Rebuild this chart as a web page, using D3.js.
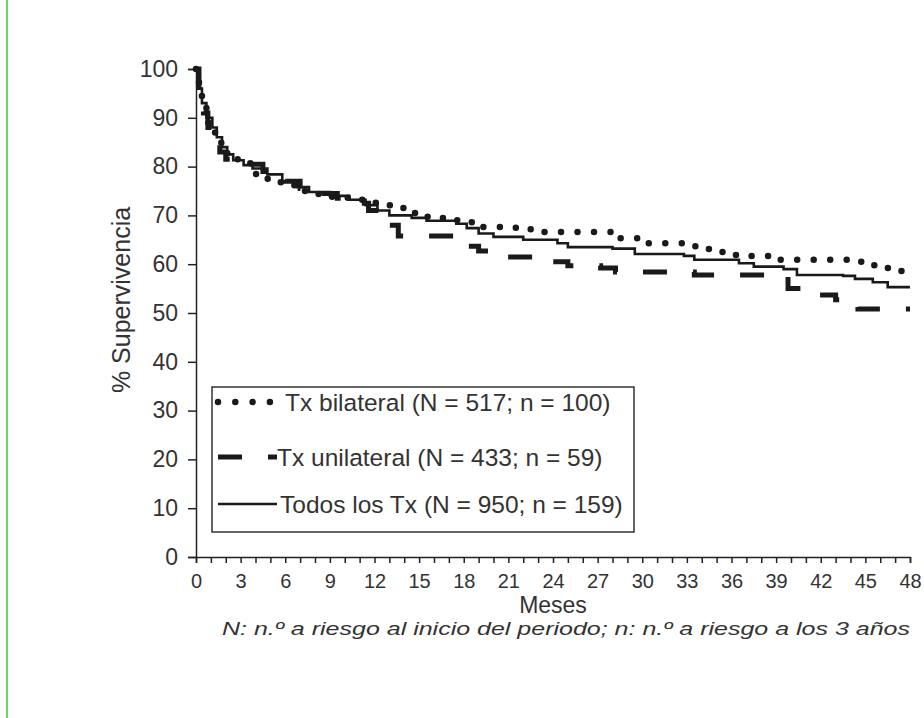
<!DOCTYPE html>
<html>
<head>
<meta charset="utf-8">
<script src="https://d3js.org/d3.v7.min.js"></script>
<style>
  body { margin: 0; background: #fff; }
  text { font-family: "Liberation Sans", Arial, sans-serif; fill: #333; }
</style>
</head>
<body>
<svg id="chart" width="924" height="718"></svg>
<script>
// Kaplan-Meier curves, [month, % survival] at each step
var bilateral = [[0,100],[0.2,96],[0.4,93],[0.7,89],[1,87],[1.3,85],[1.7,83],[2.1,81.5],[2.8,80.7],[3.7,80.3],[4,78.5],[4.6,77.5],[5.5,76.8],[6.2,76.2],[7,75],[7.8,74.4],[9,73.8],[10.2,73.2],[11.3,72.6],[12.3,72.1],[13.3,71.5],[14.2,70.5],[15.4,69.7],[16.6,69],[17.8,68.6],[18.8,67.6],[21.5,67.2],[22.5,66.6],[28.5,65.3],[29.8,64.3],[33,63.7],[34.2,63.1],[35.3,62.5],[36.3,61.7],[38.5,60.9],[44,60.5],[45.2,59.8],[46.4,59.2],[47.3,58.6],[48,58.6]];
var unilateral = [[0,100],[0.2,95],[0.5,91],[0.8,88],[1.2,86],[1.6,83],[2,81.5],[2.6,80.5],[4.5,79],[5.2,78],[6,77],[7,75.5],[8,74.5],[9.5,73.5],[11,72.5],[11.6,71],[12.1,69.5],[12.6,68],[13.6,65.8],[17.6,64.8],[18.3,63.7],[19,62.7],[20.5,61.5],[23.8,60.5],[25,59.7],[27.2,59.2],[28.2,58.4],[33.5,57.8],[39.8,55],[40.8,54.2],[41.5,53.7],[43,52.7],[43.8,51.8],[44.5,50.8],[48,50.8]];
var todos = [[0,100],[0.2,96],[0.4,93],[0.7,90],[1.1,88],[1.4,86],[1.75,84],[2.1,82.5],[2.5,81.3],[3.2,80.3],[3.8,79.6],[4.8,78.4],[5.8,77],[6.8,75.8],[7.6,74.8],[9,74],[10.3,73.2],[11.4,72.1],[12.2,71],[13,70],[14.5,69.5],[15.5,68.9],[17.5,68.3],[18.2,67.4],[19,66.3],[20,65.6],[22,65],[24.3,64.3],[25,63.5],[28,63.2],[29.5,62.1],[32.8,61.7],[33.5,60.9],[36.5,60.2],[37.5,59.5],[39.5,59],[40.4,57.8],[43.5,57.6],[44.3,57],[45.5,56.3],[46.5,55.3],[48,55.3]];

var xTicks = d3.range(0, 49, 3);
var yTicks = d3.range(0, 101, 10);
var legendLabels = ["Tx bilateral (N = 517; n = 100)", "Tx unilateral (N = 433; n = 59)", "Todos los Tx (N = 950; n = 159)"];

var svg = d3.select("#chart");

svg.append("line")
    .attr("x1", 7).attr("x2", 7).attr("y1", 0).attr("y2", 718)
    .attr("stroke", "#3c3").attr("stroke-width", 1.5);

var x = d3.scaleLinear().domain([0, 48]).range([196, 910]);
var y = d3.scaleLinear().domain([0, 100]).range([557, 69]);

// axes
var yAxis = svg.append("g")
    .attr("transform", "translate(196,0)")
    .call(d3.axisLeft(y).tickValues(yTicks).tickSize(8).tickPadding(10));
svg.append("g")
    .attr("transform", "translate(0,557)")
    .call(d3.axisBottom(x).ticks(48).tickSize(6).tickFormat(""));
var xLabels = svg.append("g")
    .attr("transform", "translate(0,557)")
    .call(d3.axisBottom(x).tickValues(xTicks).tickSize(0).tickPadding(17));
xLabels.select(".domain").remove();

svg.selectAll(".domain").attr("stroke", "#222").attr("stroke-width", 1.5);
svg.selectAll(".tick line").attr("stroke", "#222").attr("stroke-width", 1.5);
svg.selectAll(".tick text").attr("fill", "#333")
    .style("font-family", "Liberation Sans, Arial, sans-serif");
yAxis.selectAll(".tick text").attr("font-size", 23);
xLabels.selectAll(".tick text").attr("font-size", 20);

// axis titles
svg.append("text")
    .attr("transform", "translate(130,300) rotate(-90)")
    .attr("text-anchor", "middle")
    .attr("font-size", 25)
    .text("% Supervivencia");
svg.append("text")
    .attr("x", 553).attr("y", 613)
    .attr("text-anchor", "middle")
    .attr("font-size", 23)
    .text("Meses");
svg.append("text")
    .attr("x", 222).attr("y", 635)
    .attr("font-size", 19)
    .attr("font-style", "italic")
    .attr("textLength", 688)
    .attr("lengthAdjust", "spacingAndGlyphs")
    .text("N: n.º a riesgo al inicio del periodo; n: n.º a riesgo a los 3 años");

// curves
var line = d3.line()
    .x(function(d) { return x(d[0]); })
    .y(function(d) { return y(d[1]); })
    .curve(d3.curveStepAfter);

var styles = [
    {data: bilateral, width: 6.5, dash: "0 16.5", cap: "round"},
    {data: unilateral, width: 5, dash: "24 26", cap: "butt"},
    {data: todos, width: 2.6, dash: null, cap: "butt"}
];

styles.forEach(function(s) {
    svg.append("path")
        .datum(s.data)
        .attr("d", line)
        .attr("fill", "none")
        .attr("stroke", "#1a1a1a")
        .attr("stroke-width", s.width)
        .attr("stroke-dasharray", s.dash)
        .attr("stroke-linecap", s.cap);
});

// legend
svg.append("rect")
    .attr("x", 212).attr("y", 387).attr("width", 422).attr("height", 145)
    .attr("fill", "#fff").attr("stroke", "#333").attr("stroke-width", 1.5);

var rowY = [402, 457, 504];
var textX = [285, 277, 280];
var legendDash = ["0 17.3", "24 26", null];
styles.forEach(function(s, i) {
    svg.append("line")
        .attr("x1", 218).attr("x2", i == 0 ? 272 : 277)
        .attr("y1", rowY[i]).attr("y2", rowY[i])
        .attr("stroke", "#1a1a1a")
        .attr("stroke-width", s.width)
        .attr("stroke-dasharray", legendDash[i])
        .attr("stroke-linecap", s.cap);
    svg.append("text")
        .attr("x", textX[i]).attr("y", rowY[i] + 9)
        .attr("font-size", 24.5)
        .text(legendLabels[i]);
});
</script>
</body>
</html>
